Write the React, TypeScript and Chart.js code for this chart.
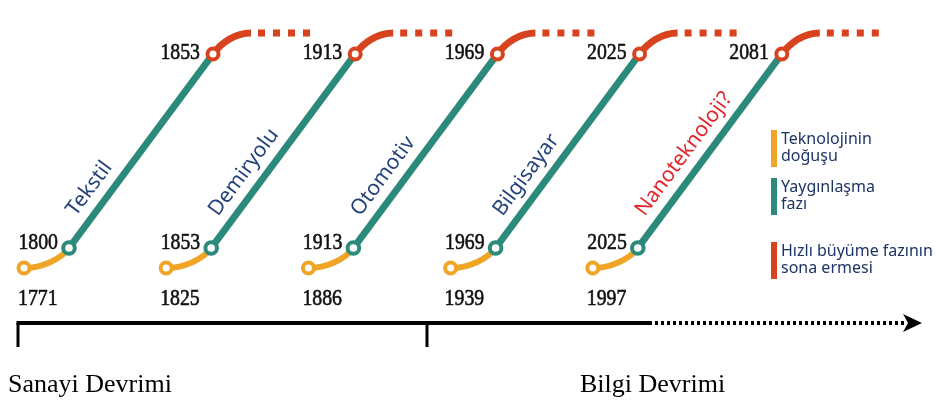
import { useEffect, useRef } from 'react';
import { Chart, registerables } from 'chart.js';

Chart.register(...registerables);

// ---- data ----
const waveNames = ['Tekstil', 'Demiryolu', 'Otomotiv', 'Bilgisayar', 'Nanoteknoloji?'];
const birthYears = ['1771', '1825', '1886', '1939', '1997'];
const spreadYears = ['1800', '1853', '1913', '1969', '2025'];
const maturityYears = ['1853', '1913', '1969', '2025', '2081'];
const legendLabels = [
  ['Teknolojinin', 'doğuşu'],
  ['Yaygınlaşma', 'fazı'],
  ['Hızlı büyüme fazının', 'sona ermesi'],
];
const eraLabels = ['Sanayi Devrimi', 'Bilgi Devrimi'];

// ---- layout / style ----
const W = 940;
const H = 406;
const L = {
  x0: 24, step: 142.2,
  orangeY: 268, greenDX: 45, greenY: 248, redDX: 189, redY: 54,
  curveDX: 38, topY: 33, dashFrom: 45, dashTo: 98,
  axisY: 323, axisStart: 18, axisSolidEnd: 652, axisDotEnd: 905, arrowTip: 922,
  eraTicks: [18, 427], eraLabelX: [8, 580], eraLabelY: 385,
};
const C = {
  orange: '#f0a526',
  teal: '#2b8a7b',
  red: '#d8431f',
  navy: '#1d3466',
  techBlue: '#24437a',
  nano: '#e3262b',
  text: '#111111',
};

function wave(i: number) {
  const ox = L.x0 + i * L.step;
  const O = { x: ox, y: L.orangeY };
  const G = { x: ox + L.greenDX, y: L.greenY };
  const R = { x: ox + L.redDX, y: L.redY };
  const E = { x: R.x + L.curveDX, y: L.topY };
  return { O, G, R, E, D1: { x: R.x + L.dashFrom, y: L.topY }, D2: { x: R.x + L.dashTo, y: L.topY } };
}

const waves = waveNames.map((_, i) => wave(i));

function yearText(ctx: CanvasRenderingContext2D, t: string, x: number, y: number, align: 'left' | 'right') {
  const sc = 0.86;
  ctx.save();
  ctx.translate(x, y);
  ctx.scale(sc, 1);
  ctx.textAlign = align;
  ctx.fillText(t, 0, 0);
  ctx.strokeText(t, 0, 0);
  ctx.restore();
}

const infoPlugin = {
  id: 'info',
  beforeDatasetsDraw(chart: any) {
    const { ctx } = chart;
    const sx = chart.scales.x, sy = chart.scales.y;
    const P = (p: { x: number; y: number }) => ({ x: sx.getPixelForValue(p.x), y: sy.getPixelForValue(p.y) });
    ctx.save();
    ctx.lineCap = 'butt';
    waves.forEach((w) => {
      const O = P(w.O), G = P(w.G), R = P(w.R), E = P(w.E);
      const dx = R.x - G.x, dy = R.y - G.y;
      const len = Math.hypot(dx, dy);
      const ux = dx / len, uy = dy / len;
      // orange curve
      ctx.strokeStyle = C.orange;
      ctx.lineWidth = 6;
      ctx.beginPath();
      ctx.moveTo(O.x, O.y);
      ctx.bezierCurveTo(O.x + 18, O.y, G.x - ux * 14, G.y - uy * 14, G.x, G.y);
      ctx.stroke();
      // red curve
      ctx.strokeStyle = C.red;
      ctx.lineWidth = 7;
      ctx.beginPath();
      ctx.moveTo(R.x, R.y);
      ctx.bezierCurveTo(R.x + ux * 14, R.y + uy * 14, E.x - 16, E.y, E.x, E.y);
      ctx.stroke();
    });
    ctx.restore();
  },
  afterDatasetsDraw(chart: any) {
    const { ctx } = chart;
    const sx = chart.scales.x, sy = chart.scales.y;
    const P = (p: { x: number; y: number }) => ({ x: sx.getPixelForValue(p.x), y: sy.getPixelForValue(p.y) });
    ctx.save();
    // year labels
    ctx.fillStyle = C.text;
    ctx.strokeStyle = C.text;
    ctx.lineWidth = 0.6;
    ctx.font = '23px "Liberation Serif", "Times New Roman", serif';
    ctx.textBaseline = 'middle';
    waves.forEach((w, i) => {
      const O = P(w.O), G = P(w.G), R = P(w.R);
      yearText(ctx, birthYears[i], O.x - 6, O.y + 31, 'left');
      yearText(ctx, spreadYears[i], G.x - 11, G.y - 5, 'right');
      yearText(ctx, maturityYears[i], R.x - 13, R.y - 1, 'right');
    });
    // technology names along the lines
    ctx.font = '21px "Noto Sans", "Open Sans", sans-serif';
    ctx.textAlign = 'left';
    ctx.textBaseline = 'alphabetic';
    waves.forEach((w, i) => {
      const G = P(w.G), R = P(w.R);
      const ang = Math.atan2(R.y - G.y, R.x - G.x);
      ctx.save();
      ctx.translate(G.x, G.y);
      ctx.rotate(ang);
      ctx.fillStyle = i === waves.length - 1 ? C.nano : C.techBlue;
      ctx.fillText(waveNames[i], 29, -13);
      ctx.restore();
    });
    // legend
    const legColors = [C.orange, C.teal, C.red];
    const legTop = [130, 178, 242];
    ctx.font = '16px "Noto Sans", "Open Sans", sans-serif';
    ctx.textBaseline = 'middle';
    legendLabels.forEach((lines, i) => {
      ctx.fillStyle = legColors[i];
      ctx.fillRect(771, legTop[i], 6, 37);
      ctx.fillStyle = C.navy;
      lines.forEach((t, j) => ctx.fillText(t, 781, legTop[i] + 9 + j * 17));
    });
    // timeline axis
    ctx.strokeStyle = '#000';
    ctx.fillStyle = '#000';
    ctx.lineWidth = 4;
    ctx.beginPath();
    ctx.moveTo(L.axisStart - 1.5, L.axisY);
    ctx.lineTo(L.axisSolidEnd, L.axisY);
    ctx.stroke();
    ctx.lineWidth = 3;
    L.eraTicks.forEach((tx) => {
      ctx.beginPath();
      ctx.moveTo(tx, L.axisY);
      ctx.lineTo(tx, L.axisY + 24);
      ctx.stroke();
    });
    ctx.lineWidth = 4;
    ctx.setLineDash([3, 3]);
    ctx.beginPath();
    ctx.moveTo(L.axisSolidEnd + 3, L.axisY);
    ctx.lineTo(L.axisDotEnd, L.axisY);
    ctx.stroke();
    ctx.setLineDash([]);
    ctx.beginPath();
    ctx.moveTo(L.arrowTip, L.axisY);
    ctx.lineTo(L.axisDotEnd - 2, L.axisY - 9);
    ctx.lineTo(L.axisDotEnd + 3, L.axisY);
    ctx.lineTo(L.axisDotEnd - 2, L.axisY + 9);
    ctx.closePath();
    ctx.fill();
    // era labels
    ctx.font = '26px "Liberation Serif", "Times New Roman", serif';
    ctx.textAlign = 'left';
    ctx.textBaseline = 'middle';
    eraLabels.forEach((t, i) => ctx.fillText(t, L.eraLabelX[i], L.eraLabelY));
    ctx.restore();
  },
};

export default function App() {
  const ref = useRef<HTMLCanvasElement | null>(null);
  useEffect(() => {
    document.body.style.margin = '0';
    const canvas = ref.current;
    if (!canvas) return;
    const datasets: any[] = [];
    waves.forEach((w, i) => {
      datasets.push({
        type: 'line', label: 'Yaygınlaşma ' + i, data: [w.G, w.R], borderColor: C.teal,
        borderWidth: 7, pointRadius: 0, order: 3, borderCapStyle: 'butt',
      });
      datasets.push({
        type: 'line', label: 'Sona erme ' + i, data: [w.D1, w.D2], borderColor: C.red,
        borderWidth: 7, borderDash: [7, 8], pointRadius: 0, order: 3, borderCapStyle: 'butt',
      });
    });
    datasets.push({
      type: 'scatter', label: 'doğuş', data: waves.map((w) => w.O), pointRadius: 5.5, borderWidth: 4,
      pointBorderColor: C.orange, pointBackgroundColor: '#fff', order: 0,
    });
    datasets.push({
      type: 'scatter', label: 'yaygınlaşma', data: waves.map((w) => w.G), pointRadius: 5.8, borderWidth: 4,
      pointBorderColor: C.teal, pointBackgroundColor: '#fff', order: 0,
    });
    datasets.push({
      type: 'scatter', label: 'olgunluk', data: waves.map((w) => w.R), pointRadius: 5.5, borderWidth: 4,
      pointBorderColor: C.red, pointBackgroundColor: '#fff', order: 0,
    });
    const chart = new Chart(canvas, {
      type: 'scatter',
      data: { datasets },
      options: {
        responsive: false,
        animation: false,
        devicePixelRatio: 1,
        layout: { padding: 0, autoPadding: false },
        scales: {
          x: { type: 'linear', min: 0, max: W, display: false },
          y: { type: 'linear', min: 0, max: H, reverse: true, display: false },
        },
        plugins: { legend: { display: false }, tooltip: { enabled: false } },
        elements: { line: { tension: 0 } },
      } as any,
      plugins: [infoPlugin],
    });
    return () => chart.destroy();
  }, []);
  return (
    <div style={{ position: 'absolute', left: 0, top: 0, width: W, height: H, background: '#fff' }}>
      <canvas ref={ref} width={W} height={H} style={{ display: 'block' }} />
    </div>
  );
}
